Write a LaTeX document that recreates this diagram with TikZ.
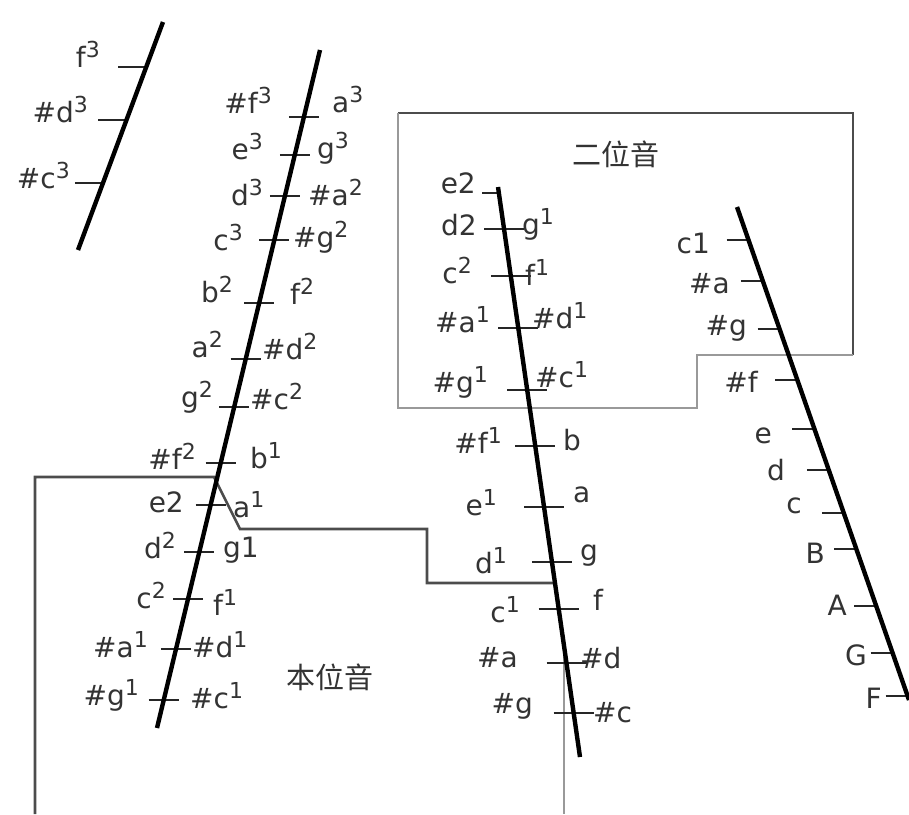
\documentclass[tikz,border=0pt]{standalone}
\usepackage{fontspec}
\setmainfont{DejaVu Sans}
\newfontfamily\cjk{Noto Sans CJK SC}
\newcommand\up[1]{\raisebox{0.33em}{\fontsize{22}{22}\selectfont #1}}
\tikzset{
  scaleline/.style={line width=4.4pt,black},
  tickmark/.style={line width=2pt,black!85},
  notelbl/.style={inner sep=0pt,text=black!80,font=\fontsize{28}{30}\selectfont},
  regionedge/.style={line width=2.6pt,black!70},
  regionfaint/.style={line width=2.6pt,black!40},
}
\begin{document}
\begin{tikzpicture}[x=1pt,y=-1pt]
  \useasboundingbox (0,0) rectangle (909,814);
  % ---------- region outlines
  \draw[regionedge] (398,113) -- (853,113) -- (853,355);
  \draw[regionfaint] (853,355) -- (697,355) -- (697,408) -- (398,408) -- (398,113);
  \draw[regionedge] (35,814) -- (35,477) -- (214,477) -- (240,529) -- (427,529) -- (427,583) -- (555,583);
  \draw[regionfaint] (564,650) -- (564,814);
  \node[notelbl,font=\cjk\fontsize{29}{30}\selectfont] (ertitle) at (616,154) {二位音};
  \node[notelbl,font=\cjk\fontsize{29}{30}\selectfont] (bentitle) at (330,677) {本位音};
  % ---------- small scale, top left
  \foreach \y/\lx/\ly/\lt in {67/100/67/{f\up{3}},120/88/122/{\#d\up{3}},183/70/188/{\#c\up{3}}}{
    \pgfmathsetmacro\xm{78+(250-\y)*0.3728}
    \draw[tickmark] (\xm-28,\y) -- (\xm,\y);
    \node[notelbl,anchor=base east] (sa-\y) at (\lx,\ly) {\lt};}
  \draw[scaleline] (78,250) -- (163,22);
  % ---------- long scale, left
  \foreach \y/\lx/\ly/\lt/\rx/\ry/\rt in {
      117/272/113/{\#f\up{3}}/332/112/{a\up{3}},
      155/263/159/{e\up{3}}/317/158/{g\up{3}},
      196/263/205/{d\up{3}}/308/205/{\#a\up{2}},
      240/243/250/{c\up{3}}/293/247/{\#g\up{2}},
      303/233/302/{b\up{2}}/290/304/{f\up{2}},
      359/223/357/{a\up{2}}/262/359/{\#d\up{2}},
      407/213/407/{g\up{2}}/250/409/{\#c\up{2}},
      463/196/469/{\#f\up{2}}/250/468/{b\up{1}},
      505/184/512/{e2}/233/517/{a\up{1}},
      552/176/558/{d\up{2}}/223/557/{g1},
      599/166/608/{c\up{2}}/213/615/{f\up{1}},
      649/148/657/{\#a\up{1}}/192/657/{\#d\up{1}},
      700/139/705/{\#g\up{1}}/190/708/{\#c\up{1}}}{
    \pgfmathsetmacro\xm{157+(728-\y)*0.2404}
    \draw[tickmark] (\xm-15,\y) -- (\xm+15,\y);
    \node[notelbl,anchor=base east] (sb-l-\y) at (\lx,\ly) {\lt};
    \node[notelbl,anchor=base west] (sb-r-\y) at (\rx,\ry) {\rt};}
  \draw[scaleline] (157,728) -- (320,50);
  % ---------- middle scale
  \draw[tickmark] (482,193) -- (499,193);
  \node[notelbl,anchor=base east] (sc-l-193) at (476,193) {e2};
  \foreach \y/\lx/\ly/\lt/\rx/\ry/\rt in {
      229/477/235/{d2}/522/234/{g\up{1}},
      276/472/283/{c\up{2}}/525/285/{f\up{1}},
      328/490/332/{\#a\up{1}}/532/328/{\#d\up{1}},
      390/488/392/{\#g\up{1}}/535/387/{\#c\up{1}},
      446/502/453/{\#f\up{1}}/563/450/{b},
      507/497/515/{e\up{1}}/573/502/{a},
      562/507/573/{d\up{1}}/580/560/{g},
      609/520/622/{c\up{1}}/593/610/{f},
      663/518/667/{\#a}/580/668/{\#d},
      713/533/713/{\#g}/593/722/{\#c}}{
    \pgfmathsetmacro\xm{498+(\y-187)*0.1439}
    \draw[tickmark] (\xm-20,\y) -- (\xm+20,\y);
    \node[notelbl,anchor=base east] (sc-l-\y) at (\lx,\ly) {\lt};
    \node[notelbl,anchor=base west] (sc-r-\y) at (\rx,\ry) {\rt};}
  \draw[scaleline] (498,187) -- (580,757);
  % ---------- right scale
  \foreach \y/\lx/\ly/\lt in {240/710/253/{c1},281/730/293/{\#a},329/747/335/{\#g},
      380/758/392/{\#f},429/772/443/{e},470/785/480/{d},513/802/513/{c},
      549/825/563/{B},606/847/615/{A},653/867/665/{G},696/882/708/{F}}{
    \pgfmathsetmacro\xm{737+(\y-207)*0.349}
    \draw[tickmark] (\xm-22,\y) -- (\xm,\y);
    \node[notelbl,anchor=base east] (sd-\y) at (\lx,\ly) {\lt};}
  \draw[scaleline] (737,207) -- (909,700);
\end{tikzpicture}
\end{document}
